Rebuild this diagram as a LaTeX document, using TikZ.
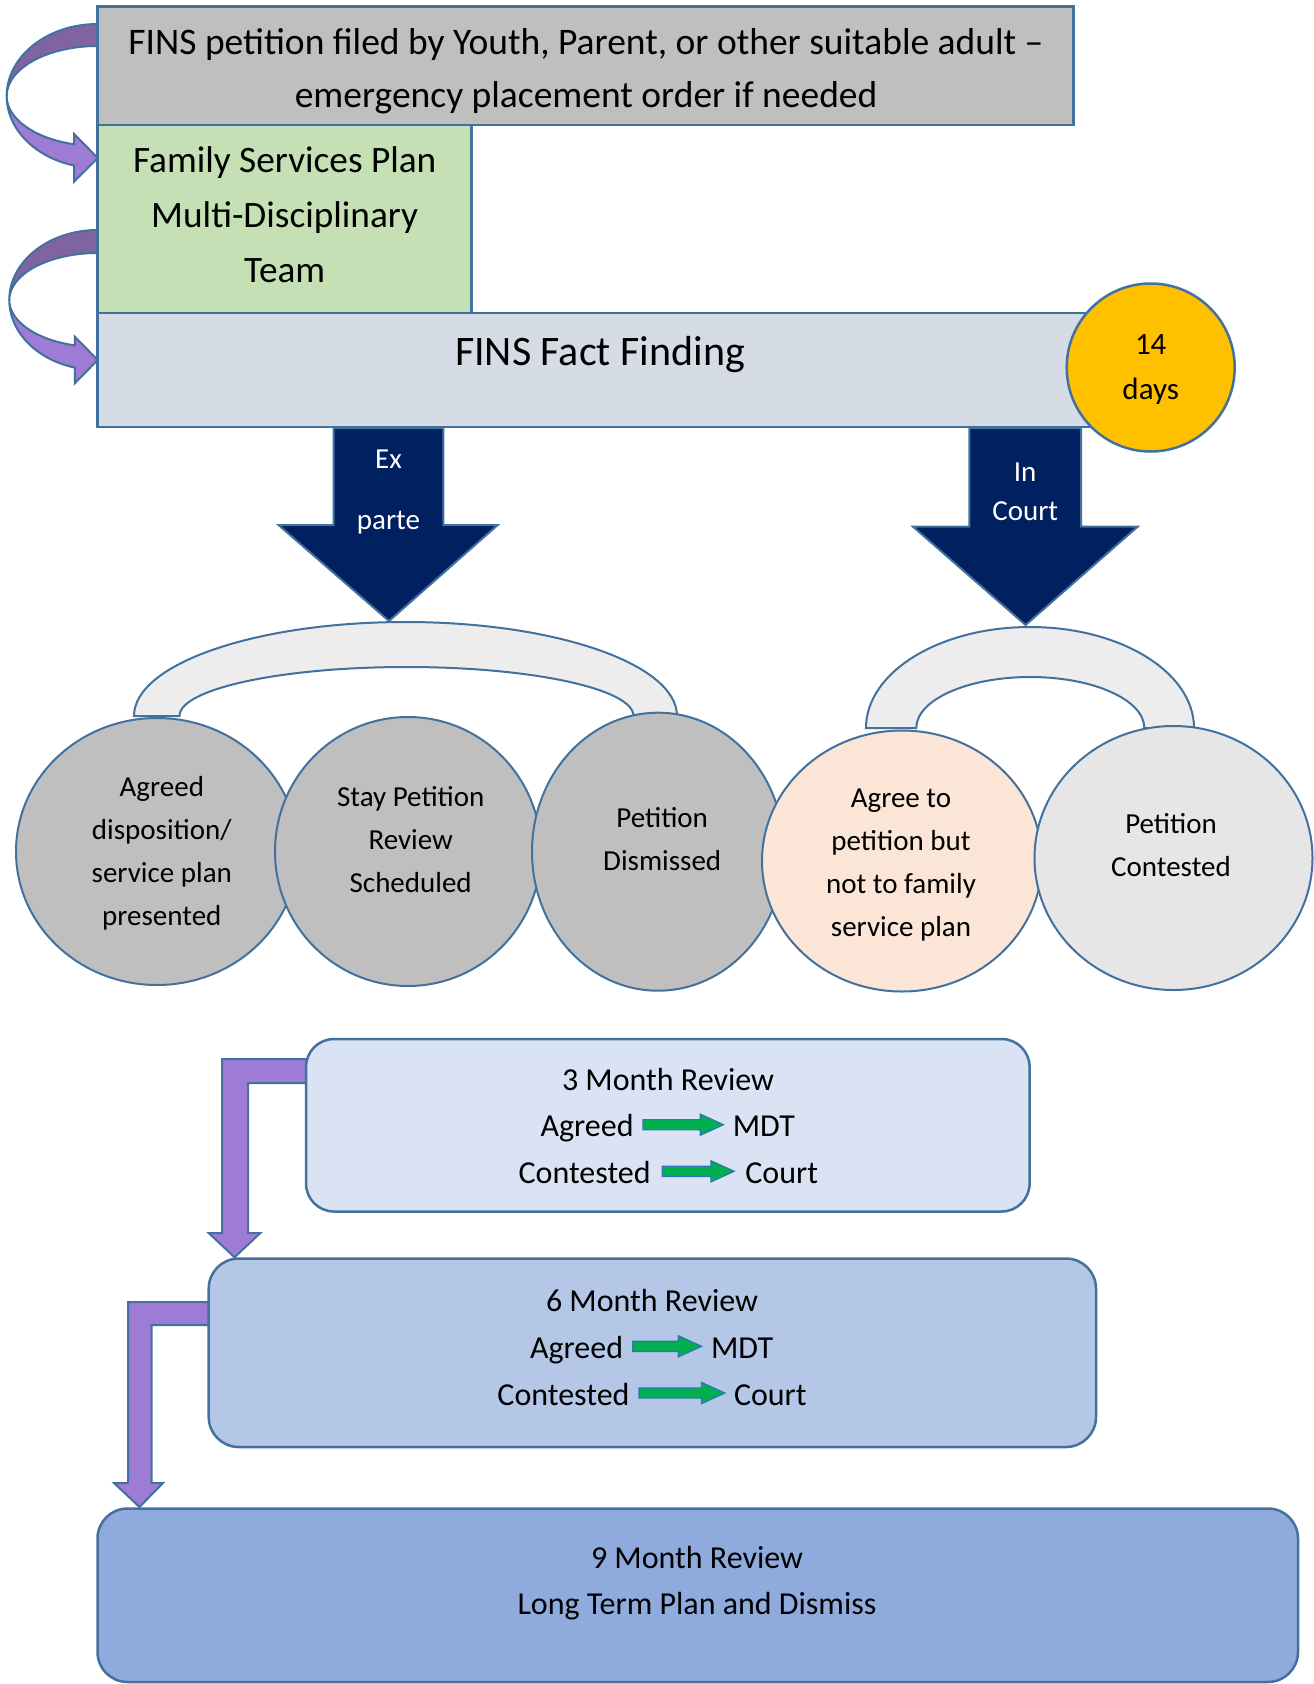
\documentclass[tikz,border=0pt]{standalone}
\usepackage{fontspec}
\setmainfont{Carlito}
\usetikzlibrary{shapes.geometric,shapes.arrows,calc}

\definecolor{edge}{HTML}{41719C}
\definecolor{greybox}{HTML}{BFBFBF}
\definecolor{greenbox}{HTML}{C5E0B4}
\definecolor{factbox}{HTML}{D6DCE5}
\definecolor{amber}{HTML}{FFC000}
\definecolor{navy}{HTML}{002060}
\definecolor{handle}{HTML}{EDEDED}
\definecolor{peach}{HTML}{FBE5D6}
\definecolor{lightgrey}{HTML}{E7E6E6}
\definecolor{revA}{HTML}{DAE3F3}
\definecolor{revB}{HTML}{B4C7E7}
\definecolor{revC}{HTML}{8FAADC}
\definecolor{purpledark}{HTML}{8064A2}
\definecolor{purplelight}{HTML}{9E7CD6}
\definecolor{okgreen}{HTML}{00B050}
\definecolor{arrowedge}{HTML}{2E75B6}

\tikzset{
  edgeline/.style={draw=edge, line width=2.5},
  boxnode/.style={rectangle, edgeline, inner sep=0, outer sep=0},
  roundbox/.style={rectangle, rounded corners=28, edgeline, inner sep=0, outer sep=0},
  oval/.style={ellipse, draw=edge, line width=2, inner sep=0, outer sep=0},
  txt/.style={align=center, inner sep=0, outer sep=0},
  fbig/.style={font=\fontsize{37.5}{53}\selectfont},
  fgreen/.style={font=\fontsize{37.3}{55}\selectfont},
  ffact/.style={font=\fontsize{42}{49}\selectfont},
  fdays/.style={font=\fontsize{31}{45}\selectfont},
  foval/.style={font=\fontsize{29}{43}\selectfont},
  frev/.style={font=\fontsize{32}{46.7}\selectfont},
  rowtxt/.style={frev, inner sep=0, outer sep=0, text height=24, text depth=0},
  garrow/.style={single arrow, draw=arrowedge, fill=okgreen, line width=1.2,
    single arrow head extend=5.5, single arrow tip angle=49,
    inner xsep=0, inner ysep=4.5, outer sep=0, xshift=-5.5},
  bigarrow/.style={fill=navy, draw=edge, line width=2, line join=miter},
  elbow/.style={fill=purplelight, draw=edge, line width=2, line join=miter},
  curvedark/.style={fill=purpledark, draw=edge, line width=2},
  curvelight/.style={fill=purplelight, draw=edge, line width=2, line join=miter},
  arch/.style={fill=handle, draw=edge, line width=2},
}

\begin{document}
\begin{tikzpicture}[x=1pt, y=-1pt]
\useasboundingbox (0,0) rectangle (1314,1684);

% curved arrows on the left of the top boxes
\path[curvedark] (112,24) -- (97.7,24)
  arc[start angle=-90, end angle=-180, x radius=91, y radius=72]
  arc[start angle=180, end angle=270, x radius=91, y radius=50]
  -- (112,46) -- cycle;
\path[curvelight] (6.7,96)
  arc[start angle=180, end angle=105, x radius=91, y radius=72]
  -- (74.1,181.7) -- (97.7,158) -- (74.1,134) -- (74.1,144.3)
  arc[start angle=105, end angle=180, x radius=91, y radius=50] -- cycle;

\path[curvedark] (112,230) -- (97.7,230)
  arc[start angle=-90, end angle=-180, x radius=88.4, y radius=70]
  arc[start angle=180, end angle=270, x radius=88.4, y radius=47]
  -- (112,253) -- cycle;
\path[curvelight] (9.3,300)
  arc[start angle=180, end angle=105, x radius=88.4, y radius=70]
  -- (74.8,383.3) -- (97.7,360) -- (74.8,336.7) -- (74.8,345.4)
  arc[start angle=105, end angle=180, x radius=88.4, y radius=47] -- cycle;

% stacked process boxes
\node[boxnode, fill=greybox, minimum width=975.6, minimum height=118.3] (petition) at (585.5,65.85) {};
\node[boxnode, fill=greenbox, minimum width=374, minimum height=188] (plan) at (284.7,219) {};
\node[boxnode, fill=factbox, minimum width=1002.3, minimum height=114] (fact) at (598.85,370) {};

\node[txt, fbig] (petitiontext) at (586,69.9)
  {\strut FINS petition filed by Youth, Parent, or other suitable adult –\\\strut emergency placement order if needed};
\node[txt, fgreen] (plantext) at (284.7,216.3)
  {\strut Family Services Plan\\\strut Multi-Disciplinary\\\strut Team};
\node[txt, ffact] (facttext) at (600,355.2) {\strut FINS Fact Finding};

\node[circle, fill=amber, draw=edge, line width=2.5, minimum size=168, inner sep=0, fdays, align=center]
  (days) at (1150.7,367.5) {\strut 14\\\strut days};

% handles joining the outcome ovals
\path[arch] (134,716) arc[start angle=180, end angle=360, x radius=271.5, y radius=94]
  -- (633.5,716) arc[start angle=0, end angle=-180, x radius=227, y radius=49] -- cycle;
\path[arch] (866,728) arc[start angle=180, end angle=360, x radius=164, y radius=101]
  -- (1144.3,728) arc[start angle=0, end angle=-180, x radius=114, y radius=51] -- cycle;

% outcome ovals
\node[oval, fill=greybox, minimum width=282, minimum height=267] (agreed) at (157,851.5) {};
\node[oval, fill=greybox, minimum width=266, minimum height=269] (stay) at (408,851.5) {};
\node[oval, fill=greybox, minimum width=252, minimum height=278] (dismissed) at (658,851.7) {};
\node[oval, fill=peach, minimum width=280, minimum height=261] (agreeto) at (902,861) {};
\node[oval, fill=lightgrey, minimum width=278, minimum height=264] (contested) at (1173.5,858) {};

\node[txt, foval] (agreedtext) at (161.8,852.8)
  {\strut Agreed\\\strut disposition/\\\strut service plan\\\strut presented};
\node[txt, foval] (staytext) at (410.7,841.2)
  {\strut Stay Petition\\\strut Review\\\strut Scheduled};
\node[txt, foval] (dismissedtext) at (662.2,840.7)
  {\strut Petition\\\strut Dismissed};
\node[txt, foval] (agreetotext) at (901,863.7)
  {\strut Agree to\\\strut petition but\\\strut not to family\\\strut service plan};
\node[txt, foval] (contestedtext) at (1171,846.3)
  {\strut Petition\\\strut Contested};

% branch arrows below fact finding
\path[bigarrow] (333.5,428) -- (443.4,428) -- (443.4,525) -- (497.7,525)
  -- (389,621) -- (278.5,525) -- (333.5,525) -- cycle;
\path[bigarrow] (969.3,428) -- (1081.2,428) -- (1081.2,526.7) -- (1137.6,526.7)
  -- (1025.6,625) -- (913,526.7) -- (969.3,526.7) -- cycle;
\node[txt, text=white, font=\fontsize{29}{61}\selectfont] (exparte) at (388.5,486.6)
  {\strut Ex\\\strut parte};
\node[txt, text=white, font=\fontsize{29}{38.3}\selectfont] (incourt) at (1025.2,493.2)
  {\strut In\\\strut Court};

% elbow arrows between reviews
\path[elbow] (320,1059) -- (222,1059) -- (222,1233) -- (208.7,1233) -- (234.5,1257.3)
  -- (260.4,1233) -- (248,1233) -- (248,1083) -- (320,1083) -- cycle;
\path[elbow] (225,1302) -- (128,1302) -- (128,1483) -- (114,1483) -- (139.5,1507)
  -- (163,1483) -- (151.5,1483) -- (151.5,1325) -- (225,1325) -- cycle;

% review boxes
\node[roundbox, fill=revA, minimum width=723.6, minimum height=172.5] (rev3) at (667.8,1125.25) {};
\node[roundbox, fill=revB, rounded corners=30, minimum width=887.3, minimum height=188.5] (rev6) at (652.35,1352.75) {};
\node[roundbox, fill=revC, rounded corners=30, minimum width=1200.5, minimum height=173.5] (rev9) at (697.75,1595.25) {};

% 3 month review
\node[frev, inner sep=0, anchor=base] (rev3title) at (668,1090) {3 Month Review};
\node[rowtxt, anchor=base east] (rev3agreed) at (633.5,1136.7) {Agreed};
\node[rowtxt, anchor=base west] (rev3mdt) at (732.8,1136.7) {MDT};
\path (rev3agreed.east) -- (rev3mdt.west) node[midway, garrow, minimum height=80.5] (rev3arrowA) {};
\node[rowtxt, anchor=base east] (rev3contested) at (650.7,1183.3) {Contested};
\node[rowtxt, anchor=base west] (rev3court) at (745.4,1183.3) {Court};
\path (rev3contested.east) -- (rev3court.west) node[midway, garrow, minimum height=72] (rev3arrowB) {};

% 6 month review
\node[frev, inner sep=0, anchor=base] (rev6title) at (652,1311.7) {6 Month Review};
\node[rowtxt, anchor=base east] (rev6agreed) at (623,1358.3) {Agreed};
\node[rowtxt, anchor=base west] (rev6mdt) at (711,1358.3) {MDT};
\path (rev6agreed.east) -- (rev6mdt.west) node[midway, garrow, minimum height=69] (rev6arrowA) {};
\node[rowtxt, anchor=base east] (rev6contested) at (629.5,1405) {Contested};
\node[rowtxt, anchor=base west] (rev6court) at (734,1405) {Court};
\path (rev6contested.east) -- (rev6court.west) node[midway, garrow, minimum height=86] (rev6arrowB) {};

% 9 month review
\node[frev, inner sep=0, anchor=base] (rev9title) at (697,1568.3) {9 Month Review};
\node[frev, inner sep=0, anchor=base] (rev9plan) at (697,1614) {Long Term Plan and Dismiss};
\end{tikzpicture}
\end{document}
